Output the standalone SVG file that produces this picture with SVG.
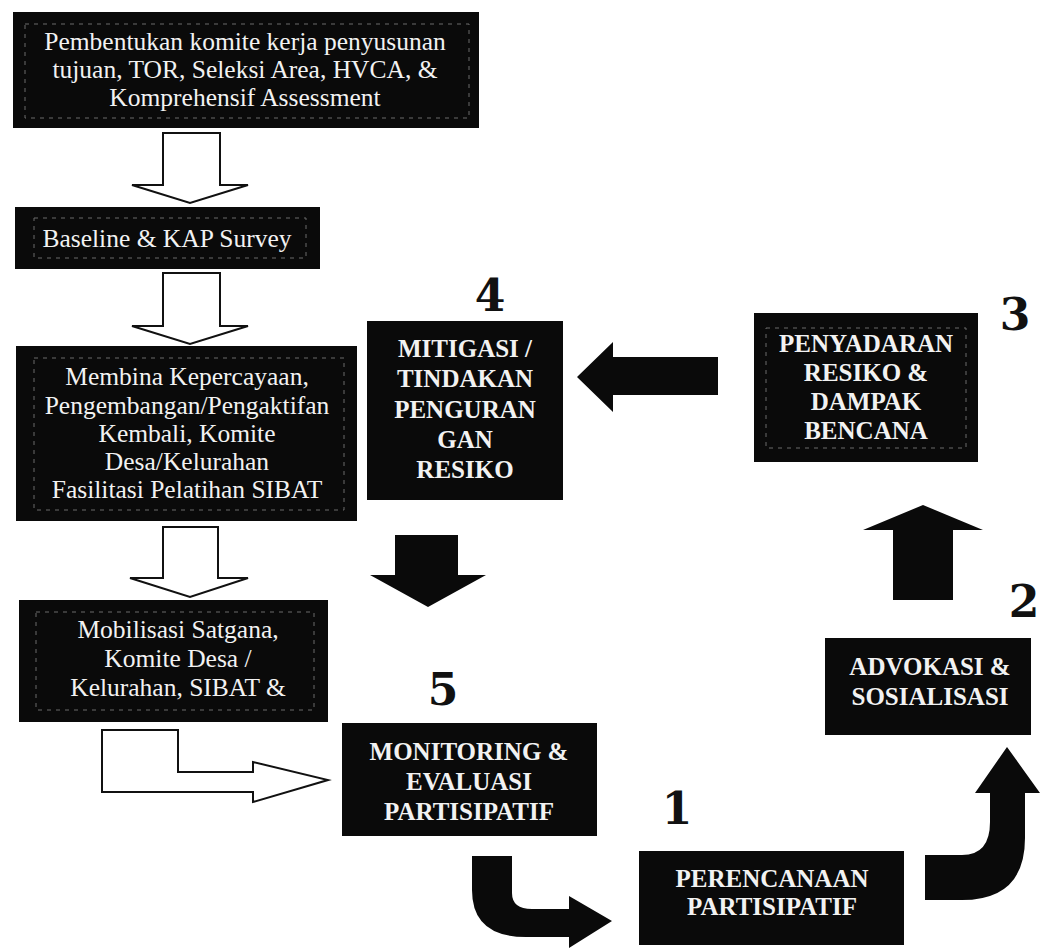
<svg xmlns="http://www.w3.org/2000/svg" width="1042" height="948" viewBox="0 0 1042 948">
<style>
.box{fill:#0a0a0a}
.inner{fill:none;stroke:#6a6a6a;stroke-width:1;stroke-dasharray:4 5}
.t{font-family:"Liberation Serif","Times New Roman",serif;font-size:25.5px;fill:#f2f2f2;text-anchor:middle}
.tb{font-family:"Liberation Serif","Times New Roman",serif;font-size:25px;font-weight:bold;fill:#f2f2f2;text-anchor:middle}
.num{font-family:"DejaVu Serif",serif;font-size:44px;font-weight:bold;fill:#111;text-anchor:middle}
.wa{fill:#fff;stroke:#111;stroke-width:2;stroke-linejoin:miter}
.ba{fill:#0a0a0a}
</style>
<rect width="1042" height="948" fill="#fff"/>

<g id="node-pembentukan">
<rect class="box" x="13" y="12" width="466" height="116"/>
<rect class="inner" x="25" y="24" width="444" height="94"/>
<text class="t" x="245" y="50">Pembentukan komite kerja penyusunan</text>
<text class="t" x="245" y="78">tujuan, TOR, Seleksi Area, HVCA, &amp;</text>
<text class="t" x="245" y="106">Komprehensif Assessment</text>
</g>

<g id="node-baseline">
<rect class="box" x="15" y="207" width="305" height="62"/>
<rect class="inner" x="34" y="218" width="272" height="40"/>
<text class="t" x="167" y="247">Baseline &amp; KAP Survey</text>
</g>

<g id="node-membina">
<rect class="box" x="16" y="346" width="341" height="175"/>
<rect class="inner" x="34" y="358" width="310" height="152"/>
<text class="t" x="187" y="385">Membina Kepercayaan,</text>
<text class="t" x="187" y="414">Pengembangan/Pengaktifan</text>
<text class="t" x="187" y="442">Kembali, Komite</text>
<text class="t" x="187" y="470">Desa/Kelurahan</text>
<text class="t" x="187" y="498">Fasilitasi Pelatihan SIBAT</text>
</g>

<g id="node-mobilisasi">
<rect class="box" x="19" y="600" width="309" height="122"/>
<rect class="inner" x="36" y="612" width="278" height="98"/>
<text class="t" x="178" y="638">Mobilisasi Satgana,</text>
<text class="t" x="178" y="667">Komite Desa /</text>
<text class="t" x="178" y="696">Kelurahan, SIBAT &amp;</text>
</g>

<g id="node-mitigasi">
<rect class="box" x="367" y="321" width="196" height="179"/>
<text class="tb" x="465" y="357">MITIGASI /</text>
<text class="tb" x="465" y="387">TINDAKAN</text>
<text class="tb" x="465" y="418">PENGURAN</text>
<text class="tb" x="465" y="448">GAN</text>
<text class="tb" x="465" y="478">RESIKO</text>
<text class="num" x="490" y="311">4</text>
</g>

<g id="node-penyadaran">
<rect class="box" x="754" y="313" width="224" height="149"/>
<rect class="inner" x="766" y="328" width="200" height="120"/>
<text class="tb" x="866" y="352">PENYADARAN</text>
<text class="tb" x="866" y="381">RESIKO &amp;</text>
<text class="tb" x="866" y="410">DAMPAK</text>
<text class="tb" x="866" y="439">BENCANA</text>
<text class="num" x="1015" y="330">3</text>
</g>

<g id="node-advokasi">
<rect class="box" x="825" y="638" width="206" height="97"/>
<text class="tb" x="930" y="675">ADVOKASI &amp;</text>
<text class="tb" x="930" y="705">SOSIALISASI</text>
<text class="num" x="1024" y="617">2</text>
</g>

<g id="node-monitoring">
<rect class="box" x="342" y="723" width="255" height="113"/>
<text class="tb" x="469" y="760">MONITORING &amp;</text>
<text class="tb" x="469" y="790">EVALUASI</text>
<text class="tb" x="469" y="820">PARTISIPATIF</text>
<text class="num" x="443" y="705">5</text>
</g>

<g id="node-perencanaan">
<rect class="box" x="639" y="851" width="265" height="94"/>
<text class="tb" x="772" y="887">PERENCANAAN</text>
<text class="tb" x="772" y="915">PARTISIPATIF</text>
<text class="num" x="677" y="824">1</text>
</g>

<g id="connectors">
<path class="wa" d="M163,133 L220,133 L220,185 L248,185 L190,203 L132,185 L163,185 Z"/>
<path class="wa" d="M163,273 L220,273 L220,326 L248,326 L190,344 L132,326 L163,326 Z"/>
<path class="wa" d="M163,527 L218,527 L218,578 L248,578 L190,597 L130,578 L163,578 Z"/>
<path class="wa" d="M102,730 L178,730 L178,772 L253,772 L253,762 L328,780 L253,802 L253,792 L102,792 Z"/>
<path class="ba" d="M718,357 L718,395 L613,395 L613,412 L577,377 L613,342 L613,357 Z"/>
<path class="ba" d="M395,535 L458,535 L458,575 L486,575 L428,607 L370,575 L395,575 Z"/>
<path class="ba" d="M893,600 L953,600 L953,530 L983,530 L923,505 L863,530 L893,530 Z"/>
<path class="ba" d="M472,856 L512,856 L512,893 Q512,909 532,909 L569,909 L569,896 L612,921 L569,948 L569,937 L526,937 Q472,937 472,890 Z"/>
<path class="ba" d="M925,855 L962,855 Q990,855 990,822 L990,793 L975,793 L1007,747 L1040,793 L1025,793 L1025,838 Q1025,900 962,900 L925,900 Z"/>
</g>
</svg>
